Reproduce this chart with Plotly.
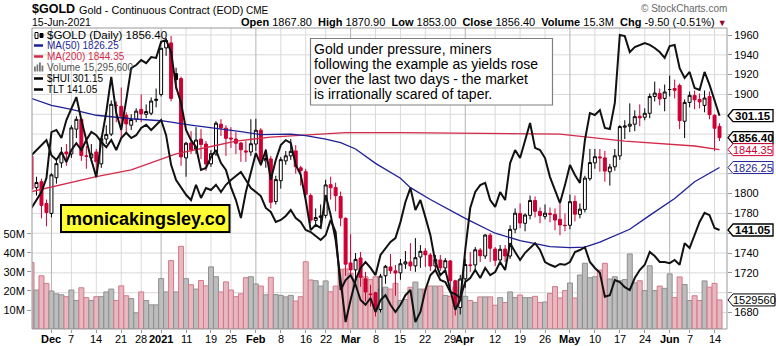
import pandas as pd
import plotly.graph_objects as go

# ---------------- data ----------------
holidays = ["2020-11-26", "2020-12-25", "2021-01-01", "2021-01-18",
            "2021-02-15", "2021-04-02", "2021-05-31"]
trade_dates = [d.strftime("%Y-%m-%d") for d in pd.bdate_range("2020-11-24", "2021-06-15")
               if d.strftime("%Y-%m-%d") not in holidays]

prev_close = 1837.8

opens = [1837.8, 1806.0, 1812.0, 1790.0, 1780.0, 1816.0, 1831.0, 1842.0, 1840.0, 1865.0,
         1875.0, 1838.0, 1836.0, 1842.0, 1830.0, 1855.0, 1860.0, 1889.0, 1888.0, 1879.0,
         1869.0, 1875.0, 1885.0, 1880.0, 1881.0, 1894.0, 1900.0, 1947.0, 1952.0, 1921.0,
         1916.0, 1836.0, 1851.0, 1845.0, 1855.0, 1850.0, 1830.0, 1840.0, 1870.0, 1866.0,
         1856.0, 1855.0, 1851.0, 1843.0, 1842.0, 1850.0, 1864.0, 1833.0, 1835.0, 1792.0,
         1813.0, 1833.0, 1838.0, 1843.0, 1826.0, 1822.0, 1798.0, 1773.0, 1776.0, 1778.0,
         1809.0, 1806.0, 1797.0, 1775.0, 1730.0, 1723.0, 1735.0, 1714.0, 1698.0, 1700.0,
         1683.0, 1717.0, 1726.0, 1722.0, 1720.0, 1729.0, 1731.0, 1727.0, 1736.0, 1742.0,
         1738.0, 1727.0, 1733.0, 1725.0, 1732.0, 1712.0, 1685.0, 1714.0, 1728.0, 1728.0,
         1743.0, 1737.0, 1758.0, 1744.0, 1733.0, 1744.0, 1737.0, 1764.0, 1780.0, 1770.0,
         1778.0, 1793.0, 1782.0, 1777.0, 1780.0, 1779.0, 1774.0, 1768.0, 1768.0, 1792.0,
         1779.0, 1784.0, 1815.0, 1831.0, 1837.0, 1836.0, 1822.0, 1827.0, 1838.0, 1867.0,
         1868.0, 1870.0, 1878.0, 1877.0, 1881.0, 1898.0, 1901.0, 1896.0, 1905.0, 1906.0,
         1909.0, 1873.0, 1892.0, 1899.0, 1895.0, 1889.0, 1898.0, 1879.0, 1867.8]
highs = [1839.0, 1817.0, 1815.0, 1794.0, 1820.5, 1835.0, 1847.0, 1850.0, 1869.0, 1878.0,
         1876.0, 1848.0, 1850.0, 1845.0, 1858.0, 1869.0, 1894.0, 1893.0, 1907.0, 1882.0,
         1880.0, 1886.0, 1900.0, 1890.0, 1897.0, 1906.0, 1947.0, 1957.0, 1959.0, 1927.0,
         1918.0, 1852.0, 1863.0, 1867.0, 1865.0, 1853.0, 1844.0, 1873.0, 1875.0, 1869.0,
         1867.0, 1862.0, 1852.0, 1853.0, 1875.0, 1875.5, 1866.0, 1845.0, 1838.0, 1818.0,
         1837.0, 1843.0, 1855.0, 1849.0, 1828.0, 1825.0, 1800.0, 1785.0, 1789.0, 1814.0,
         1817.0, 1811.0, 1802.0, 1776.0, 1759.0, 1740.0, 1741.0, 1721.0, 1708.0, 1701.0,
         1719.0, 1728.0, 1739.0, 1728.0, 1734.0, 1742.0, 1750.0, 1755.0, 1748.0, 1745.0,
         1740.0, 1738.0, 1738.0, 1735.0, 1733.0, 1713.0, 1718.0, 1734.0, 1741.0, 1746.0,
         1745.0, 1759.0, 1760.0, 1746.0, 1748.0, 1748.0, 1768.0, 1785.0, 1790.0, 1780.0,
         1798.0, 1797.0, 1786.0, 1789.0, 1786.0, 1785.0, 1790.0, 1780.0, 1799.0, 1798.0,
         1790.0, 1818.0, 1845.0, 1845.0, 1845.0, 1843.0, 1830.0, 1845.0, 1869.0, 1874.0,
         1891.0, 1884.0, 1890.0, 1886.0, 1901.0, 1913.0, 1906.0, 1910.0, 1919.0, 1915.0,
         1911.0, 1895.0, 1903.0, 1904.0, 1901.0, 1904.0, 1903.0, 1880.0, 1870.9]
lows = [1800.5, 1798.0, 1775.0, 1767.0, 1776.0, 1810.0, 1826.0, 1828.0, 1836.0, 1856.0,
        1833.0, 1825.0, 1832.0, 1821.0, 1826.0, 1850.0, 1858.0, 1872.0, 1856.0, 1862.0,
        1864.0, 1872.0, 1872.0, 1876.0, 1879.0, 1887.0, 1898.0, 1939.0, 1893.0, 1905.0,
        1828.0, 1817.0, 1840.0, 1840.0, 1835.0, 1823.0, 1827.0, 1838.0, 1858.0, 1838.0,
        1846.0, 1840.0, 1832.0, 1832.0, 1838.0, 1843.0, 1828.0, 1826.0, 1785.0, 1789.0,
        1805.0, 1829.0, 1834.0, 1820.0, 1808.0, 1790.0, 1770.0, 1767.0, 1770.0, 1775.0,
        1794.0, 1782.0, 1767.0, 1717.0, 1717.0, 1706.0, 1706.0, 1691.0, 1686.0, 1676.0,
        1680.0, 1709.0, 1719.0, 1697.0, 1713.0, 1724.0, 1722.0, 1721.0, 1725.0, 1726.0,
        1722.0, 1722.0, 1722.0, 1721.0, 1705.0, 1677.0, 1678.0, 1705.0, 1721.0, 1724.0,
        1731.0, 1734.0, 1731.0, 1727.0, 1730.0, 1731.0, 1734.0, 1760.0, 1765.0, 1762.0,
        1774.0, 1776.0, 1770.0, 1774.0, 1771.0, 1763.0, 1758.0, 1762.0, 1764.0, 1772.0,
        1775.0, 1781.0, 1813.0, 1825.0, 1822.0, 1812.0, 1808.0, 1823.0, 1834.0, 1855.0,
        1862.0, 1863.0, 1868.0, 1874.0, 1876.0, 1893.0, 1889.0, 1883.0, 1898.0, 1896.0,
        1865.0, 1856.0, 1887.0, 1885.0, 1886.0, 1882.0, 1875.0, 1843.0, 1853.0]
closes = [1804.6, 1811.2, 1788.1, 1780.9, 1818.9, 1830.2, 1841.1, 1840.0, 1866.3, 1874.9,
          1838.5, 1837.7, 1840.0, 1832.1, 1855.3, 1859.7, 1890.1, 1888.9, 1878.1, 1870.3,
          1874.7, 1883.2, 1880.4, 1882.8, 1893.4, 1895.1, 1946.6, 1954.4, 1896.0, 1915.0,
          1837.0, 1850.8, 1844.0, 1854.0, 1849.5, 1829.9, 1840.2, 1871.0, 1866.3, 1855.7,
          1855.2, 1850.8, 1844.2, 1842.0, 1850.3, 1863.9, 1833.4, 1835.4, 1791.2, 1814.1,
          1834.2, 1838.1, 1842.6, 1827.1, 1823.2, 1799.2, 1773.2, 1775.8, 1777.4, 1808.7,
          1805.9, 1797.9, 1775.4, 1728.8, 1723.0, 1733.6, 1715.6, 1700.7, 1698.5, 1683.3,
          1716.7, 1726.6, 1722.2, 1719.8, 1729.2, 1731.1, 1727.0, 1735.3, 1741.7, 1738.2,
          1726.9, 1733.6, 1725.1, 1732.3, 1712.2, 1686.4, 1713.8, 1728.4, 1727.6, 1743.3,
          1737.3, 1758.2, 1744.8, 1732.6, 1743.8, 1737.0, 1763.9, 1780.2, 1770.2, 1778.4,
          1793.1, 1782.1, 1777.8, 1780.2, 1779.1, 1773.3, 1768.3, 1767.7, 1791.8, 1779.2,
          1784.3, 1815.6, 1831.3, 1837.2, 1836.1, 1822.7, 1826.8, 1838.1, 1867.6, 1868.1,
          1870.0, 1877.6, 1876.4, 1881.0, 1898.0, 1901.4, 1895.5, 1902.5, 1905.0, 1904.2,
          1873.6, 1892.0, 1899.1, 1894.6, 1892.5, 1896.4, 1879.6, 1865.9, 1856.4]

volume_m = [35.0, 20.5, 28.0, 24.0, 20.0, 18.5, 18.0, 17.0, 20.5, 15.0,
            21.7, 16.5, 15.0, 17.0, 17.0, 19.5, 21.0, 15.0, 22.7, 17.5,
            16.0, 8.5, 19.5, 15.0, 12.7, 12.7, 26.5, 19.5, 36.0, 19.5,
            43.5, 26.5, 23.3, 21.0, 25.5, 22.7, 32.7, 27.5, 19.5, 24.8,
            20.5, 17.0, 18.5, 27.0, 27.5, 23.7, 22.6, 18.0, 27.2, 18.1,
            17.7, 16.9, 17.7, 14.7, 17.0, 35.4, 25.8, 25.4, 22.6, 25.3,
            19.6, 22.6, 31.4, 31.6, 29.3, 26.3, 27.5, 27.5, 26.0, 27.5,
            21.0, 22.0, 21.0, 24.0, 15.0, 15.5, 22.0, 24.7, 21.0, 21.0,
            22.6, 22.6, 22.6, 17.7, 17.2, 22.0, 25.8, 17.2, 15.0, 14.0,
            16.9, 16.9, 16.9, 12.5, 16.5, 13.9, 19.5, 16.5, 17.9, 16.5,
            16.5, 17.2, 13.9, 14.2, 18.7, 22.3, 16.3, 20.2, 24.2, 16.3,
            28.4, 34.6, 27.0, 27.5, 31.0, 34.6, 26.3, 27.5, 25.4, 26.0,
            39.5, 24.3, 25.4, 20.2, 33.3, 20.2, 22.6, 21.4, 29.0, 16.5,
            27.4, 23.4, 15.0, 17.5, 15.0, 25.3, 22.0, 24.0, 15.2956]

hui = [267.7, 270.6, 273.5, 278.6, 295.2, 296.0, 293.1, 299.6, 303.9, 307.9,
       299.6, 292.3, 285.1, 278.9, 292.3, 302.5, 315.2, 302.1, 296.0, 306.8,
       318.4, 319.5, 321.3, 320.2, 322.4, 322.1, 327.9, 328.6, 324.2, 311.5,
       305.8, 296.0, 292.3, 289.8, 281.5, 282.2, 286.2, 288.7, 284.0, 281.5,
       275.3, 270.6, 264.1, 273.5, 280.4, 287.6, 283.3, 288.7, 277.9, 285.1,
       290.5, 292.3, 291.3, 283.3, 279.7, 270.6, 259.7, 261.6, 260.5, 272.4,
       265.2, 256.1, 241.6, 226.4, 234.4, 241.6, 246.0, 248.1, 246.0, 243.4,
       250.7, 253.2, 255.4, 256.8, 262.6, 269.9, 275.0, 267.0, 270.6, 264.4,
       257.9, 248.1, 243.4, 245.2, 238.0, 230.8, 234.4, 252.5, 267.7, 273.5,
       276.0, 276.8, 270.6, 268.1, 273.5, 270.6, 284.0, 288.7, 285.8, 292.3,
       298.5, 289.5, 288.7, 285.8, 278.9, 274.2, 269.5, 276.0, 283.3, 279.7,
       276.8, 292.3, 302.1, 301.4, 303.2, 296.7, 296.3, 305.8, 330.4, 330.0,
       324.2, 326.0, 326.8, 327.5, 326.8, 325.7, 324.2, 322.1, 326.4, 326.8,
       318.4, 314.8, 317.0, 311.2, 310.5, 317.0, 312.3, 306.8, 301.15]

tlt = [150.4, 151.05, 151.7, 152.3, 150.4, 149.8, 150.8, 149.55, 151.05, 151.9,
       151.05, 152.3, 153.3, 152.9, 152.05, 151.4, 152.3, 151.05, 152.55, 153.2,
       152.55, 152.9, 153.8, 154.2, 153.55, 154.2, 154.8, 152.9, 149.2, 147.3,
       146.3, 145.45, 144.8, 146.7, 145.05, 146.3, 146.05, 146.7, 145.8, 146.7,
       147.3, 147.8, 148.3, 147.3, 146.3, 145.8, 145.3, 143.8, 143.3, 142.05,
       142.3, 142.8, 143.55, 142.55, 142.05, 141.05, 140.8, 140.3, 139.8, 140.4,
       142.3, 140.8, 133.55, 134.8, 135.4, 134.2, 132.3, 131.7, 132.55, 130.8,
       132.3, 132.9, 131.7, 130.8, 131.7, 132.9, 133.55, 129.55, 130.8, 133.55,
       135.4, 136.05, 134.8, 134.55, 133.3, 133.05, 132.55, 134.55, 135.05, 136.05,
       135.05, 136.3, 135.4, 135.8, 137.05, 136.05, 139.4, 138.3, 137.3, 138.2,
       138.8, 139.4, 138.55, 137.05, 136.7, 136.45, 136.8, 136.7, 137.05, 138.3,
       138.55, 138.9, 137.05, 136.3, 135.7, 132.7, 132.9, 134.8, 134.55, 133.9,
       133.55, 135.05, 136.05, 136.7, 138.3, 137.8, 137.05, 137.05, 136.9, 137.3,
       136.7, 139.4, 138.8, 140.4, 142.05, 143.2, 142.9, 141.3, 141.05]

ma50_dates = ["2020-11-24", "2020-12-01", "2020-12-07", "2020-12-14", "2020-12-23", "2021-01-04",
              "2021-01-12", "2021-01-20", "2021-01-27", "2021-02-02", "2021-02-10", "2021-02-16",
              "2021-02-22", "2021-02-25", "2021-03-02", "2021-03-08", "2021-03-15", "2021-03-17",
              "2021-03-23", "2021-04-01", "2021-04-12", "2021-04-19", "2021-04-27", "2021-05-03",
              "2021-05-06", "2021-05-11", "2021-05-19", "2021-05-25", "2021-06-02", "2021-06-08",
              "2021-06-15"]
ma50_values = [1896.0, 1889.0, 1885.0, 1879.0, 1875.5, 1873.5, 1869.0, 1866.0, 1862.5, 1859.5,
               1860.0, 1858.5, 1855.0, 1851.5, 1845.0, 1830.5, 1815.5, 1806.0, 1794.0, 1775.0,
               1760.0, 1752.5, 1746.5, 1745.5, 1746.0, 1751.0, 1764.0, 1778.0, 1795.0, 1812.0,
               1826.25]
ma200_dates = ["2020-11-24", "2020-12-14", "2020-12-23", "2021-01-07", "2021-01-19", "2021-01-26",
               "2021-02-04", "2021-02-12", "2021-02-26", "2021-03-15", "2021-04-14", "2021-04-29",
               "2021-05-18", "2021-06-08", "2021-06-15"]
ma200_values = [1802.0, 1817.0, 1824.0, 1840.0, 1847.5, 1853.0, 1857.0, 1859.0, 1861.5, 1861.5,
                1861.0, 1860.0, 1853.0, 1848.0, 1844.35]

tick_dates = ["2020-12-01", "2020-12-07", "2020-12-14", "2020-12-21", "2020-12-28", "2021-01-04",
              "2021-01-11", "2021-01-19", "2021-01-25", "2021-02-01", "2021-02-08", "2021-02-16",
              "2021-02-22", "2021-03-01", "2021-03-08", "2021-03-15", "2021-03-22", "2021-03-29",
              "2021-04-01", "2021-04-12", "2021-04-19", "2021-04-26", "2021-05-03", "2021-05-10",
              "2021-05-17", "2021-05-24", "2021-06-01", "2021-06-07", "2021-06-14"]
tick_labels = ["Dec", "7", "14", "21", "28", "2021", "11", "19", "25", "Feb", "8", "16", "22",
               "Mar", "8", "15", "22", "29", "Apr", "12", "19", "26", "May", "10", "17", "24",
               "Jun", "7", "14"]
price_ticks = list(range(1680, 1961, 20))
volume_ticks_m = [10, 20, 30, 40, 50]

# ---------------- geometry / styles ----------------
W, H = 776, 346
ML, MR, MT, MB = 32, 49, 28, 17
PW, PH = W - ML - MR, H - MT - MB
PRICE_RANGE = [1663.35, 1967.06]
HUI_RANGE = [223.87, 332.93]
TLT_RANGE = [128.675, 166.3]
VOL_RANGE = [0, 158.4e6]
X_RANGE = [0.1, 139.5]

RED = "#cc0033"
NAVY = "#1f1f96"
MA200C = "#d42a4a"
FONT = "Arial"


def px(x):
    return (x - ML) / PW


def py(y):
    return (H - MB - y) / PH


def val_px(v, rng):
    return H - MB - (v - rng[0]) / (rng[1] - rng[0]) * PH


n = len(trade_dates)
pos = {d: i for i, d in enumerate(trade_dates)}
xs = list(range(n))
up = [closes[i] >= (closes[i - 1] if i else prev_close) for i in range(n)]

fig = go.Figure()

# volume
fig.add_trace(go.Bar(
    x=xs, y=[v * 1e6 for v in volume_m], width=1.0, yaxis="y",
    marker=dict(color=["#bdbdbd" if u else "#e9b7bf" for u in up],
                line=dict(color=["#8f8f8f" if u else "#d07a8a" for u in up], width=1)),
    hoverinfo="skip"))

# candles: black = up vs previous close, red = down vs previous close
for want, col in [(True, "#000000"), (False, RED)]:
    ids = [i for i in range(n) if up[i] == want]
    fig.add_trace(go.Candlestick(
        x=[xs[i] for i in ids], open=[opens[i] for i in ids], high=[highs[i] for i in ids],
        low=[lows[i] for i in ids], close=[closes[i] for i in ids], yaxis="y2",
        increasing=dict(line=dict(color=col, width=1), fillcolor="white"),
        decreasing=dict(line=dict(color=col, width=1), fillcolor=col),
        whiskerwidth=0, hoverinfo="skip"))

fig.add_trace(go.Scatter(x=[pos[d] for d in ma200_dates], y=ma200_values, yaxis="y2",
                         mode="lines", line=dict(color=MA200C, width=1.3), hoverinfo="skip"))
fig.add_trace(go.Scatter(x=[pos[d] for d in ma50_dates], y=ma50_values, yaxis="y2",
                         mode="lines", line=dict(color=NAVY, width=1.3), hoverinfo="skip"))
fig.add_trace(go.Scatter(x=xs, y=hui, yaxis="y3", mode="lines",
                         line=dict(color="#111111", width=2), hoverinfo="skip"))
fig.add_trace(go.Scatter(x=xs, y=tlt, yaxis="y4", mode="lines",
                         line=dict(color="#111111", width=2), hoverinfo="skip"))

shapes = []
# grid
for p in price_ticks:
    shapes.append(dict(type="line", xref="paper", x0=0, x1=1, yref="y2", y0=p, y1=p,
                       line=dict(color="#dadada", width=1), layer="below"))
for d, lab in zip(tick_dates, tick_labels):
    month = not lab.isdigit() or lab == "2021"
    shapes.append(dict(type="line", xref="x", x0=pos[d], x1=pos[d], yref="paper", y0=0, y1=1,
                       line=dict(color="#b4b4b4" if month else "#dadada", width=1), layer="below"))
# plot frame
shapes.append(dict(type="rect", xref="paper", yref="paper", x0=0, x1=1, y0=0, y1=1,
                   line=dict(color="#999999", width=1), layer="above"))

annotations = []


def text(x, y, s, size=11, color="black", anchor="left", bold=False, family=FONT, yanchor="middle"):
    annotations.append(dict(xref="paper", yref="paper", x=px(x), y=py(y), text=("<b>%s</b>" % s) if bold else s,
                            showarrow=False, xanchor=anchor, yanchor=yanchor, borderpad=0,
                            font=dict(size=size, color=color, family=family)))


# header
text(31, 9.5, "$GOLD", size=12.5, bold=True)
text(78, 10, "Gold - Continuous Contract (EOD)", size=10.8)
text(245, 10.5, "CME", size=10)
text(31, 22.5, "15-Jun-2021", size=10.5)
text(728, 8, "© StockCharts.com", size=10, color="#666666", anchor="right")
hdr = ("<b>Open</b> %.2f  <b>High</b> %.2f  <b>Low</b> %.2f  <b>Close</b> %.2f  "
       "<b>Volume</b> %.1fM  <b>Chg</b> %.2f (%.2f%%) <span style='color:#990033;font-size:9px'>▼</span>") % (
    opens[-1], highs[-1], lows[-1], closes[-1], volume_m[-1], closes[-1] - closes[-2],
    (closes[-1] - closes[-2]) / closes[-2] * 100)
text(728, 22.5, hdr, size=11, anchor="right")

# x-axis labels (placed on the category positions)
for d, lab in zip(tick_dates, tick_labels):
    bold = not lab.isdigit() or lab == "2021"
    annotations.append(dict(xref="x", yref="paper", x=pos[d], y=py(338.5),
                            text=("<b>%s</b>" % lab) if bold else lab, showarrow=False,
                            xanchor="center", yanchor="middle", borderpad=0,
                            font=dict(size=11, color="black", family=FONT)))

# in-chart legend
leg = [("$GOLD (Daily) %.2f" % closes[-1], "black", 11.5, 35),
       ("MA(50) %.2f" % ma50_values[-1], NAVY, 10, 45.5),
       ("MA(200) %.2f" % ma200_values[-1], MA200C, 10, 56.5),
       ("Volume {:,}".format(int(round(volume_m[-1] * 1e6))), "#555555", 10, 67.5),
       ("$HUI %.2f" % hui[-1], "black", 10, 78.5),
       ("TLT %.2f" % tlt[-1], "black", 10, 89.5)]
for s, c, sz, y in leg:
    text(46, y, s, size=sz, color=c)
for c, y in [(NAVY, 45.5), (MA200C, 56.5), ("black", 78.5), ("black", 89.5)]:
    shapes.append(dict(type="line", xref="paper", yref="paper", x0=px(34), x1=px(43), y0=py(y), y1=py(y),
                       line=dict(color=c, width=2.5), layer="above"))
# candle icon
shapes.append(dict(type="rect", xref="paper", yref="paper", x0=px(35), x1=px(38), y0=py(38.5), y1=py(32.5),
                   line=dict(color="black", width=1), fillcolor="white", layer="above"))
shapes.append(dict(type="rect", xref="paper", yref="paper", x0=px(40), x1=px(43), y0=py(37.5), y1=py(33.5),
                   line=dict(color="black", width=1), fillcolor="black", layer="above"))
# volume icon
for bx, bh in [(34, 5), (36.5, 7), (39, 9), (41.5, 6)]:
    shapes.append(dict(type="rect", xref="paper", yref="paper", x0=px(bx), x1=px(bx + 1.8),
                       y0=py(71.5), y1=py(71.5 - bh), line=dict(width=0), fillcolor="#777777", layer="above"))

# comment box
shapes.append(dict(type="rect", xref="paper", yref="paper", x0=px(310.5), x1=px(552.5), y0=py(105), y1=py(38.5),
                   line=dict(color="#808080", width=1.2), fillcolor="white", layer="above"))
for s, y in zip(["Gold under pressure, miners", "following the example as yields rose",
                 "over the last two days - the market", "is irrationally scared of taper."],
                [49, 64, 79, 94]):
    text(313, y, s, size=14)

# watermark box
shapes.append(dict(type="rect", xref="paper", yref="paper", x0=px(61), x1=px(229.5), y0=py(232), y1=py(205),
                   line=dict(color="black", width=2), fillcolor="#ffff33", layer="above"))
text(145.5, 219, "monicakingsley.co", size=18, bold=True, anchor="center")

# right-hand value tags
tags = [(hui[-1], HUI_RANGE, "%.2f" % hui[-1], "black", True, 46),
        (closes[-1], PRICE_RANGE, "%.2f" % closes[-1], "black", True, 46),
        (ma200_values[-1], PRICE_RANGE, "%.2f" % ma200_values[-1], RED, False, 46),
        (ma50_values[-1], PRICE_RANGE, "%.2f" % ma50_values[-1], NAVY, False, 46),
        (tlt[-1], TLT_RANGE, "%.2f" % tlt[-1], "black", True, 46),
        (volume_m[-1] * 1e6, VOL_RANGE, "1529560", "black", False, 48)]
tag_px = []
for v, rng, s, c, b, wdt in tags:
    yp = val_px(v, rng)
    tag_px.append(yp)
    x0 = W - MR
    path = "M %f %f L %f %f L %f %f L %f %f L %f %f Z" % (
        px(x0 + 1), py(yp), px(x0 + 6), py(yp - 6), px(x0 + wdt), py(yp - 6),
        px(x0 + wdt), py(yp + 6), px(x0 + 6), py(yp + 6))
    shapes.append(dict(type="path", xref="paper", yref="paper", path=path,
                       line=dict(color=c, width=1.3 if b else 1), fillcolor="white", layer="above"))
    text(x0 + 6 + (wdt - 6) / 2, yp, s, size=11.5 if b else 11, color=c, bold=b, anchor="center")

# price tick labels hidden where an opaque value tag sits on top of them
price_ticktext = ["" if any(abs(val_px(p, PRICE_RANGE) - t) < 8 for t in tag_px) else str(p)
                  for p in price_ticks]

fig.update_layout(
    width=W, height=H, margin=dict(l=ML, r=MR, t=MT, b=MB, pad=0, autoexpand=False),
    paper_bgcolor="white", plot_bgcolor="white", showlegend=False, boxgap=0.15,
    font=dict(family=FONT, size=11, color="black"),
    xaxis=dict(range=X_RANGE, tickvals=[pos[d] for d in tick_dates], showticklabels=False,
               automargin=False, ticks="outside", ticklen=3, tickcolor="#999999", showgrid=False,
               zeroline=False, showline=False, rangeslider=dict(visible=False), fixedrange=True),
    yaxis=dict(range=VOL_RANGE, tickvals=[v * 1e6 for v in volume_ticks_m], automargin=False,
               ticktext=["%dM" % v for v in volume_ticks_m], side="left", ticks="outside", ticklen=4,
               tickcolor="#999999", showgrid=False, zeroline=False, showline=False,
               tickfont=dict(size=11, family=FONT), fixedrange=True),
    yaxis2=dict(range=PRICE_RANGE, overlaying="y", side="right", tickvals=price_ticks,
                ticktext=price_ticktext, automargin=False,
                ticks="outside", ticklen=4, tickcolor="#999999", showgrid=False, zeroline=False,
                showline=False, tickfont=dict(size=11, family=FONT), fixedrange=True),
    yaxis3=dict(range=HUI_RANGE, overlaying="y", visible=False, fixedrange=True),
    yaxis4=dict(range=TLT_RANGE, overlaying="y", visible=False, fixedrange=True),
    shapes=shapes, annotations=annotations,
)

fig.write_html("out.html")
